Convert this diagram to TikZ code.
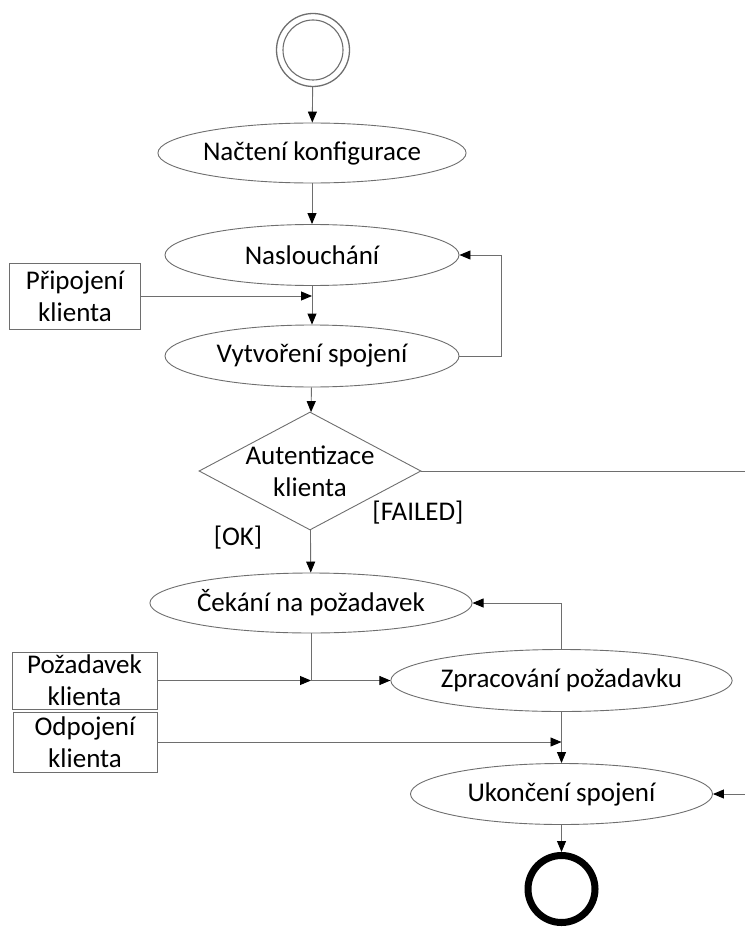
\documentclass[tikz,border=0pt]{standalone}
\usepackage{fontspec}
\setmainfont{Carlito}
\usetikzlibrary{arrows.meta,shapes.geometric}
\definecolor{ln}{HTML}{6E6E6E}
\begin{document}
\begin{tikzpicture}[x=1pt,y=-1pt,
  every node/.style={font=\fontsize{27}{32}\selectfont, inner sep=0pt},
  act/.style={draw=ln, line width=0.9pt, ellipse},
  sig/.style={draw=ln, line width=0.9pt, rectangle, align=center},
  arr/.style={draw=ln, line width=0.9pt, -{Triangle[length=11pt,width=9pt,fill=black,color=black]}},
  ln/.style={draw=ln, line width=0.9pt}]
\useasboundingbox (0,0) rectangle (744,936);

\node[draw=ln, line width=1.3pt, circle, minimum size=73pt] (start) at (313,50) {};
\node[draw=ln, line width=1.1pt, circle, minimum size=60pt] (startin) at (313,50) {};

\node[act, minimum width=294pt, minimum height=60pt] (nacteni) at (312,153) {Načtení konfigurace};
\node[act, minimum width=294pt, minimum height=61pt] (nasl) at (312,255) {Naslouchání};
\node[act, minimum width=294pt, minimum height=62pt] (vytv) at (312,356) {Vytvoření spojení};
\node[sig, minimum width=131pt, minimum height=66pt] (pripoj) at (75,296) {Připojení\\klienta};
\coordinate (j1) at (312,296);

\node[draw=ln, line width=0.9pt, diamond, minimum width=222pt, minimum height=118pt] (auth) at (310,471) {};
\node[align=center] (authtxt) at (310,471) {Autentizace\\klienta};
\node (ok) at (238,538) {[OK]};
\node (failed) at (418,513) {[FAILED]};
\coordinate (fr) at (747,471);

\node[act, minimum width=294pt, minimum height=60pt] (cekani) at (311,603) {Čekání na požadavek};
\node[sig, minimum width=145pt, minimum height=57pt] (pozad) at (84.5,680.5) {Požadavek\\klienta};
\coordinate (j2) at (311,680.5);
\node[act, minimum width=311pt, minimum height=62pt] (zprac) at (561.5,680.5) {Zpracování požadavku};
\node[sig, minimum width=144pt, minimum height=60pt] (odpoj) at (85,742) {Odpojení\\klienta};
\coordinate (j3) at (561.5,742);
\node[act, minimum width=302pt, minimum height=61pt] (ukonc) at (561.5,794) {Ukončení spojení};
\node[draw=black, line width=7pt, circle, minimum size=67pt] (end) at (561.5,889) {};

\draw[arr] (start) -- (nacteni);
\draw[arr] (nacteni) -- (nasl);
\draw[arr] (nasl) -- (vytv);
\draw[arr] (pripoj.east) -- (j1);
\draw[arr] (vytv.east) -- ++(42,0) |- (nasl.east);
\draw[arr] (vytv) -- (auth);
\draw[arr] (auth) -- (cekani);
\draw[ln] (auth.east) -- (fr);
\draw[arr] (fr) |- (ukonc.east);
\draw[arr] (cekani.south) |- (zprac.west);
\draw[arr] (pozad.east) -- (j2);
\draw[arr] (zprac.north) |- (cekani.east);
\draw[arr] (odpoj.east) -- (j3);
\draw[arr] (zprac) -- (ukonc);
\draw[arr] (ukonc) -- (end);
\end{tikzpicture}
\end{document}
